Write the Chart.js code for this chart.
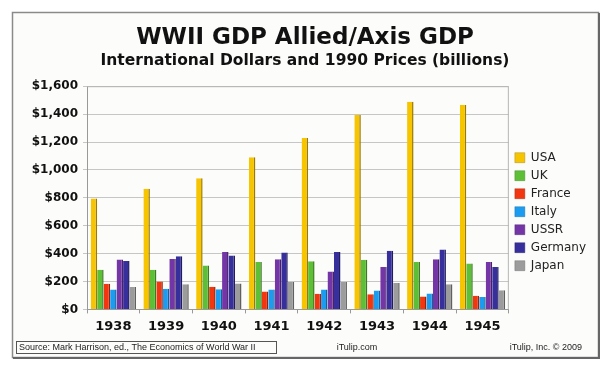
<!DOCTYPE html>
<html>
<head>
<meta charset="utf-8">
<script src="https://cdn.jsdelivr.net/npm/chart.js@4.4.0/dist/chart.umd.min.js"></script>
<style>
  html, body { margin: 0; padding: 0; background: #fff; }
  #wrap { width: 616px; height: 376px; }
</style>
</head>
<body>
<div id="wrap"><canvas id="grafico" width="616" height="376"></canvas></div>
<script>
// anos e valores (bilhoes, dolares internacionais de 1990)
var anos = ["1938", "1939", "1940", "1941", "1942", "1943", "1944", "1945"];
var paises = ["USA", "UK", "France", "Italy", "USSR", "Germany", "Japan"];
var usa = [795, 865, 940, 1090, 1228, 1393, 1488, 1465];
var uk = [285, 285, 315, 340, 346, 356, 340, 329];
var france = [184, 200, 162, 129, 113, 108, 93, 98];
var italy = [143, 148, 145, 142, 143, 135, 114, 89];
var ussr = [357, 362, 412, 359, 271, 304, 359, 340];
var germany = [347, 381, 386, 407, 412, 420, 430, 304];
var japan = [161, 181, 186, 196, 196, 189, 181, 137];
var yTicks = [0, 200, 400, 600, 800, 1000, 1200, 1400, 1600];

var series = [usa, uk, france, italy, ussr, germany, japan];
var colors = ["#f7c400", "#5cbf35", "#f2360f", "#1b9cf0", "#7435a6", "#372f9c", "#9c9c9c"];
var shadows = ["#9a7a00", "#3a7a22", "#9a220a", "#116399", "#4a2169", "#221d63", "#606060"];

var datasets = [];
paises.forEach(function (nome, i) {
  datasets.push({
    label: nome,
    data: series[i],
    backgroundColor: colors[i],
    borderColor: shadows[i],
    borderWidth: { top: 0, right: 1.5, bottom: 0, left: 0 },
    borderSkipped: "start",
    barPercentage: 1.0,
    categoryPercentage: 0.86,
  });
});

// moldura, fundo e rodape
var moldura = {
  id: "moldura",
  beforeDraw: function (chart) {
    var ctx = chart.ctx;
    ctx.save();
    ctx.fillStyle = "#ffffff";
    ctx.fillRect(0, 0, 616, 376);
    ctx.fillStyle = "#fcfcfb";
    ctx.fillRect(12, 12, 586, 345);
    ctx.restore();
  },
  afterDraw: function (chart) {
    var ctx = chart.ctx;
    var a = chart.chartArea;
    ctx.save();
    ctx.strokeStyle = "#b5b5b5";
    ctx.lineWidth = 1;
    ctx.beginPath();
    ctx.moveTo(a.left, a.top + 0.5);
    ctx.lineTo(a.right - 0.5, a.top + 0.5);
    ctx.lineTo(a.right - 0.5, a.bottom);
    ctx.stroke();

    // frame
    ctx.strokeStyle = "#8a8a8a";
    ctx.lineWidth = 1.5;
    ctx.strokeRect(12.5, 12.5, 586, 345);
    ctx.strokeStyle = "#666";
    ctx.lineWidth = 2;
    ctx.beginPath();
    ctx.moveTo(13, 358);
    ctx.lineTo(599, 358);
    ctx.lineTo(599, 13);
    ctx.stroke();

    // footer
    ctx.strokeStyle = "#555";
    ctx.lineWidth = 1;
    ctx.strokeRect(16.5, 341.5, 260, 12);
    ctx.fillStyle = "#222";
    ctx.font = "9px 'Liberation Sans', Arial, sans-serif";
    ctx.textBaseline = "middle";
    ctx.textAlign = "left";
    ctx.fillText("Source: Mark Harrison, ed., The Economics of World War II", 19, 347.7);
    ctx.textAlign = "center";
    ctx.fillText("iTulip.com", 357, 347.7);
    ctx.textAlign = "right";
    ctx.fillText("iTulip, Inc. \u00a9 2009", 582, 347.7);
    ctx.restore();
  },
};

new Chart(document.getElementById("grafico"), {
  type: "bar",
  data: { labels: anos, datasets: datasets },
  options: {
    responsive: false,
    animation: false,
    devicePixelRatio: 1,
    layout: { padding: { left: 14, right: 20, top: 0, bottom: 37 } },
    plugins: {
      title: {
        display: true,
        text: "WWII GDP Allied/Axis GDP",
        color: "#111",
        font: { family: "'DejaVu Sans', Verdana, sans-serif", size: 23, weight: "bold" },
        padding: { top: 24, bottom: 0 },
      },
      subtitle: {
        display: true,
        text: "International Dollars and 1990 Prices (billions)",
        color: "#111",
        font: { family: "'DejaVu Sans', Verdana, sans-serif", size: 15.5, weight: "bold" },
        padding: { top: 0, bottom: 16 },
      },
      legend: {
        position: "right",
        align: "center",
        title: { display: true, text: " ", font: { size: 12 }, padding: { top: 70, bottom: 0 } },
        labels: {
          boxWidth: 10,
          boxHeight: 10,
          padding: 6,
          color: "#222",
          font: { family: "'DejaVu Sans', Verdana, sans-serif", size: 12 },
        },
      },
      tooltip: { enabled: false },
    },
    scales: {
      x: {
        grid: { display: true, drawOnChartArea: false, tickLength: 4, color: "#999", offset: true },
        border: { color: "#999" },
        ticks: {
          color: "#111",
          padding: 5,
          font: { family: "'DejaVu Sans', Verdana, sans-serif", size: 13, weight: "bold" },
        },
      },
      y: {
        min: 0,
        max: 1600,
        afterBuildTicks: function (scale) {
          scale.ticks = yTicks.map(function (v) { return { value: v }; });
        },
        afterFit: function (scale) { scale.width = 73; },
        grid: { color: "#c6c6c6", tickLength: 4 },
        border: { color: "#999" },
        ticks: {
          color: "#111",
          padding: 5,
          font: { family: "'DejaVu Sans', Verdana, sans-serif", size: 12, weight: "bold" },
          callback: function (v) { return "$" + v.toLocaleString("en-US"); },
        },
      },
    },
  },
  plugins: [moldura],
});
</script>
</body>
</html>
